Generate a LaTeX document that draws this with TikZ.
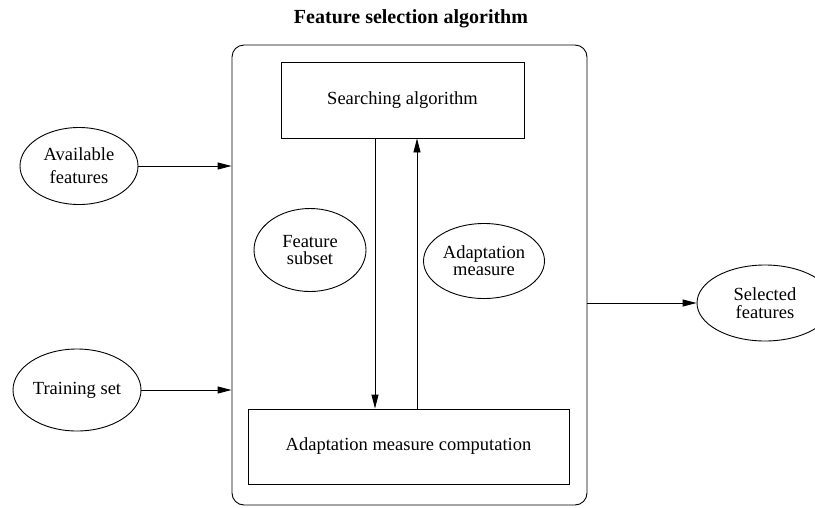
\documentclass[tikz,border=0pt]{standalone}
\usepackage{fontspec}
\setmainfont{Liberation Serif}
\usetikzlibrary{shapes.geometric,arrows.meta}

\tikzset{
  line/.style={line width=0.9pt, draw=black},
  flow/.style={line, -{Triangle[length=14pt,width=7pt]}},
  procbox/.style={line, rectangle, inner sep=0pt},
  dataoval/.style={line, ellipse, inner sep=0pt, align=center},
  txt/.style={font=\fontsize{18.5}{21}\selectfont},
}

\begin{document}
\begin{tikzpicture}[x=1pt, y=-1pt]
  \useasboundingbox (0,0) rectangle (815,507);

  % title
  \node[font=\fontsize{20}{24}\selectfont\bfseries] (title) at (411,19) {Feature selection algorithm};

  % enclosing algorithm frame
  \node[line, rectangle, rounded corners=12pt, minimum width=355pt, minimum height=460pt, inner sep=0pt]
    (frame) at (409.5,275) {};

  % inner process boxes
  \node[procbox, minimum width=243pt, minimum height=76pt, txt] (search) at (402.5,100) {Searching algorithm};
  \node[procbox, minimum width=321pt, minimum height=75pt, txt] (comp) at (408.5,446.5) {Adaptation measure computation};

  % data ovals inside the frame
  \node[dataoval, minimum width=112pt, minimum height=83pt, font=\fontsize{18.5}{17}\selectfont] (fsub) at (310,250) {Feature\\subset};
  \node[dataoval, minimum width=121pt, minimum height=75pt, font=\fontsize{18.5}{17}\selectfont] (adm) at (484,261) {Adaptation\\measure};

  % external inputs and output
  \node[dataoval, minimum width=118pt, minimum height=77pt, font=\fontsize{18.5}{23}\selectfont] (avail) at (79,166) {Available\\features};
  \node[dataoval, minimum width=128pt, minimum height=82pt, txt] (train) at (77,390) {Training set};
  \node[dataoval, minimum width=136pt, minimum height=76pt, font=\fontsize{18.5}{18}\selectfont] (sel) at (765,303) {Selected\\features};

  % columns of the loop between the two boxes
  \coordinate (dn) at (375,0);
  \coordinate (up) at (417,0);

  % connectors
  \draw[flow] (avail.east) -- (avail.east -| frame.west);
  \draw[flow] (train.east) -- (train.east -| frame.west);
  \draw[flow] (sel.west -| frame.east) -- (sel.west);
  \draw[flow] (search.south -| dn) -- (comp.north -| dn);
  \draw[flow] (comp.north -| up) -- (search.south -| up);
\end{tikzpicture}
\end{document}
